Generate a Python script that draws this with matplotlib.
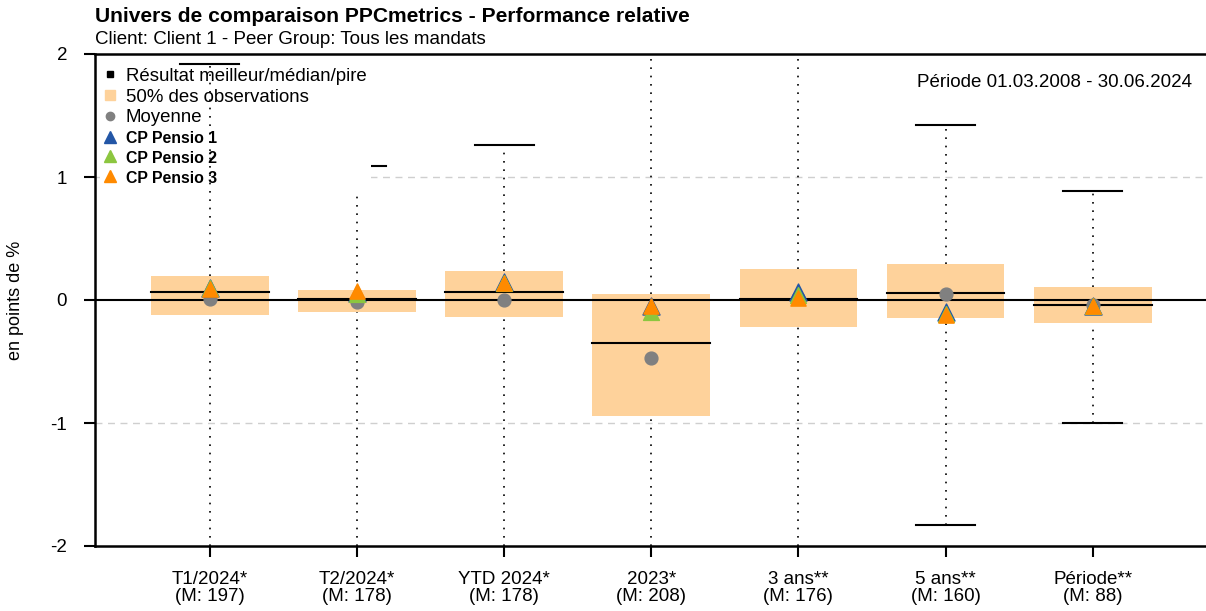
import matplotlib.pyplot as plt
from matplotlib.lines import Line2D

plt.rcParams['font.family'] = ['Liberation Sans', 'DejaVu Sans']

categories = ['T1/2024*', 'T2/2024*', 'YTD 2024*', '2023*', '3 ans**', '5 ans**', 'Période**']
counts = [197, 178, 178, 208, 176, 160, 88]

# None = outside the visible range (whisker runs to the axis edge)
best = [1.92, 1.09, 1.26, None, None, 1.42, 0.89]
worst = [None, None, None, None, None, -1.83, -1.00]
q_high = [0.195, 0.08, 0.235, 0.05, 0.25, 0.29, 0.105]
q_low = [-0.12, -0.10, -0.14, -0.94, -0.22, -0.15, -0.19]
median = [0.065, 0.005, 0.065, -0.35, 0.01, 0.055, -0.04]
mean = [0.01, -0.015, 0.0, -0.47, 0.02, 0.05, -0.04]

pensio1 = [0.10, 0.06, 0.15, -0.05, 0.065, -0.10, -0.05]
pensio2 = [0.10, 0.05, 0.14, -0.10, 0.04, -0.11, -0.05]
pensio3 = [0.09, 0.07, 0.14, -0.05, 0.02, -0.12, -0.05]

ylim = (-2, 2)
box_color = '#FED29B'
c1, c2, c3 = '#2356A6', '#8CC63F', '#FF8A00'

fig = plt.figure(figsize=(12.06, 6.11), dpi=100)
ax = fig.add_axes([95 / 1206, 65 / 611, 1 - 95 / 1206, 492 / 611])

x = list(range(len(categories)))
ax.set_xlim(-0.78, 6.77)
ax.set_ylim(*ylim)

# grid + zero line
for g in (-1, 1):
    ax.axhline(g, color='#CFCFCF', lw=1, ls=(0, (5, 4)), zorder=0.5)
ax.axhline(0, color='black', lw=1.5, zorder=3.5)

dots = (0, (1, 4))
for i in x:
    z = 4.5 if i == 0 else 2
    top = best[i] if best[i] is not None else ylim[1]
    bot = worst[i] if worst[i] is not None else ylim[0]
    ax.plot([i, i], [q_high[i], top], color='black', lw=1.2, ls=dots, zorder=z)
    ax.plot([i, i], [bot, q_low[i]], color='black', lw=1.2, ls=dots, zorder=z)
    if best[i] is not None:
        ax.plot([i - 0.2, i + 0.2], [best[i], best[i]], color='black', lw=1.5, zorder=z)
    if worst[i] is not None:
        ax.plot([i - 0.2, i + 0.2], [worst[i], worst[i]], color='black', lw=1.5, zorder=z)
    ax.bar(i, q_high[i] - q_low[i], bottom=q_low[i], width=0.8, color=box_color, zorder=3)
    ax.plot([i - 0.4, i + 0.4], [median[i], median[i]], color='black', lw=1.5, zorder=3.6)

ax.scatter(x, mean, s=85, color='#808080', zorder=4)
ax.scatter(x, pensio1, marker='^', s=150, color=c1, zorder=5)
ax.scatter(x, pensio2, marker='^', s=130, color=c2, zorder=5.1)
ax.scatter(x, pensio3, marker='^', s=120, color=c3, zorder=5.2)

ax.set_xticks(x)
ax.set_xticklabels([f'{c}\n(M: {n})' for c, n in zip(categories, counts)], fontsize=13.5, linespacing=1.0)
ax.set_yticks([-2, -1, 0, 1, 2])
ax.set_yticklabels(['-2', '-1', '0', '1', '2'], fontsize=13.5)
ax.tick_params(axis='both', direction='out', length=8, width=1.5, colors='black')
ax.tick_params(axis='x', pad=10)
ax.tick_params(axis='y', pad=12)

ax.spines['right'].set_visible(False)
for s in ('left', 'top', 'bottom'):
    ax.spines[s].set_linewidth(1.8)

fig.text(16 / 1206, 1 - 300 / 611, 'en points de %', fontsize=13, rotation=90,
         ha='center', va='center')

handles = [
    Line2D([], [], marker='s', ls='', color='black', markersize=5),
    Line2D([], [], marker='s', ls='', color=box_color, markersize=7),
    Line2D([], [], marker='o', ls='', color='#808080', markersize=6),
    Line2D([], [], marker='^', ls='', color=c1, markersize=8),
    Line2D([], [], marker='^', ls='', color=c2, markersize=8),
    Line2D([], [], marker='^', ls='', color=c3, markersize=8),
]
labels = ['Résultat meilleur/médian/pire', '50% des observations', 'Moyenne',
          'CP Pensio 1', 'CP Pensio 2', 'CP Pensio 3']
leg = ax.legend(handles, labels, loc='upper left', bbox_to_anchor=(-0.004, 1.0),
                frameon=True, fancybox=False, edgecolor='none', facecolor='white', framealpha=1,
                fontsize=13.4, handlelength=0.6, handletextpad=0.55, labelspacing=0.2,
                borderpad=0.25)
leg.set_zorder(4)
for t in leg.get_texts()[3:]:
    t.set_fontweight('bold')
    t.set_fontsize(11.4)

ax.text(0.987, 0.96, 'Période 01.03.2008 - 30.06.2024', transform=ax.transAxes,
        ha='right', va='top', fontsize=13.5)

fig.text(95 / 1206, 1 - 17 / 611, 'Univers de comparaison PPCmetrics - Performance relative',
         fontsize=15.1, fontweight='bold', va='center')
fig.text(95 / 1206, 1 - 39 / 611, 'Client: Client 1 - Peer Group: Tous les mandats',
         fontsize=13.5, va='center')

fig.savefig('out.png', dpi=100)
